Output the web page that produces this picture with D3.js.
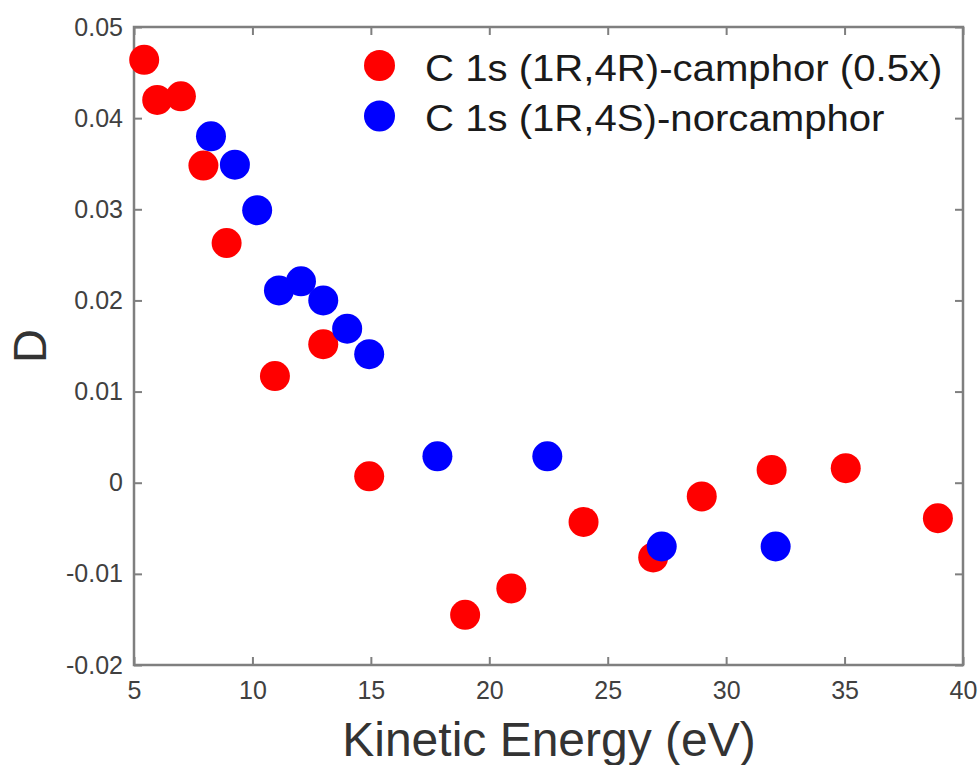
<!DOCTYPE html>
<html><head><meta charset="utf-8">
<script src="https://cdn.jsdelivr.net/npm/d3@7"></script>
<style>html,body{margin:0;padding:0;background:#fff;}</style>
</head><body>
<svg id="chart" width="980" height="765"></svg>
<script>
const seriesNames = ["C 1s (1R,4R)-camphor (0.5x)", "C 1s (1R,4S)-norcamphor"];
const seriesColors = ["#ff0000", "#0000ff"];
const camphorX = [5.43, 5.98, 6.98, 7.93, 8.91, 10.95, 12.99, 14.93, 18.98, 20.93, 23.98, 26.92, 28.97, 31.92, 35.05, 38.94];
const camphorY = [0.0464, 0.0420, 0.0424, 0.0348, 0.0263, 0.0117, 0.0152, 0.0007, -0.0145, -0.0116, -0.0043, -0.0082, -0.0015, 0.0014, 0.0016, -0.0039];
const norcamphorX = [8.25, 9.26, 10.2, 11.12, 12.05, 12.99, 14.0, 14.93, 17.81, 22.45, 27.28, 32.09];
const norcamphorY = [0.0380, 0.0349, 0.0299, 0.0211, 0.0221, 0.0200, 0.0169, 0.0141, 0.0029, 0.0029, -0.0070, -0.0070];
const xTicks = [5, 10, 15, 20, 25, 30, 35, 40];
const yTicks = [-0.02, -0.01, 0, 0.01, 0.02, 0.03, 0.04, 0.05];
const xTickLabels = ["5","10","15","20","25","30","35","40"];
const yTickLabels = ["-0.02","-0.01","0","0.01","0.02","0.03","0.04","0.05"];

const svg = d3.select("#chart");
const L = 134, R = 963, T = 27, B = 665;
const x = d3.scaleLinear().domain([5, 40]).range([L, R]);
const y = d3.scaleLinear().domain([-0.02, 0.05]).range([B, T]);
const font = "'Liberation Sans', Arial, sans-serif";
const axisColor = "#7f7f7f";
const tl = 8;

function styleAxis(g) {
  g.attr("font-size", null).attr("font-family", null);
  g.select(".domain").remove();
  g.selectAll(".tick line").attr("stroke", axisColor).attr("stroke-width", 2);
  g.selectAll(".tick text").attr("fill", "#404040")
    .attr("font-family", font).attr("font-size", 25);
}
// bottom
svg.append("g").attr("transform", `translate(0,${B})`)
  .call(d3.axisBottom(x).tickValues(xTicks).tickFormat((d,i)=>xTickLabels[i]).tickSize(-tl).tickPadding(16))
  .call(styleAxis);
// top
svg.append("g").attr("transform", `translate(0,${T})`)
  .call(d3.axisTop(x).tickValues(xTicks).tickFormat("").tickSize(-tl))
  .call(styleAxis);
// left
svg.append("g").attr("transform", `translate(${L},0)`)
  .call(d3.axisLeft(y).tickValues(yTicks).tickFormat((d,i)=>yTickLabels[i]).tickSize(-tl).tickPadding(11))
  .call(styleAxis);
// right
svg.append("g").attr("transform", `translate(${R},0)`)
  .call(d3.axisRight(y).tickValues(yTicks).tickFormat("").tickSize(-tl))
  .call(styleAxis);

svg.append("rect").attr("x", L).attr("y", T).attr("width", R-L).attr("height", B-T)
  .attr("fill", "none").attr("stroke", axisColor).attr("stroke-width", 2.5);

const series = [
  {xs: camphorX, ys: camphorY, color: seriesColors[0]},
  {xs: norcamphorX, ys: norcamphorY, color: seriesColors[1]}
];
series.forEach(s => {
  svg.append("g").selectAll("circle").data(s.xs.map((v,i)=>[v, s.ys[i]])).join("circle")
    .attr("cx", d => x(d[0])).attr("cy", d => y(d[1])).attr("r", 15).attr("fill", s.color);
});

// legend
const leg = svg.append("g");
seriesNames.forEach((n,i) => {
  const cy = 65.5 + i*50.5;
  leg.append("circle").attr("cx", 379.5).attr("cy", cy).attr("r", 15.5).attr("fill", seriesColors[i]);
  leg.append("text").attr("transform", `translate(425,${cy + 15}) scale(1.085,1)`).text(n)
    .attr("font-family", font).attr("font-size", 37).attr("fill", "#1a1a1a");
});

// axis titles
svg.append("text").attr("x", 549).attr("y", 756).attr("text-anchor", "middle")
  .text("Kinetic Energy (eV)").attr("font-family", font).attr("font-size", 48).attr("fill", "#333");
svg.append("text").attr("transform", `translate(46,${(T+B)/2}) rotate(-90)`).attr("text-anchor", "middle")
  .text("D").attr("font-family", font).attr("font-size", 47).attr("fill", "#333");
</script>
</body></html>
